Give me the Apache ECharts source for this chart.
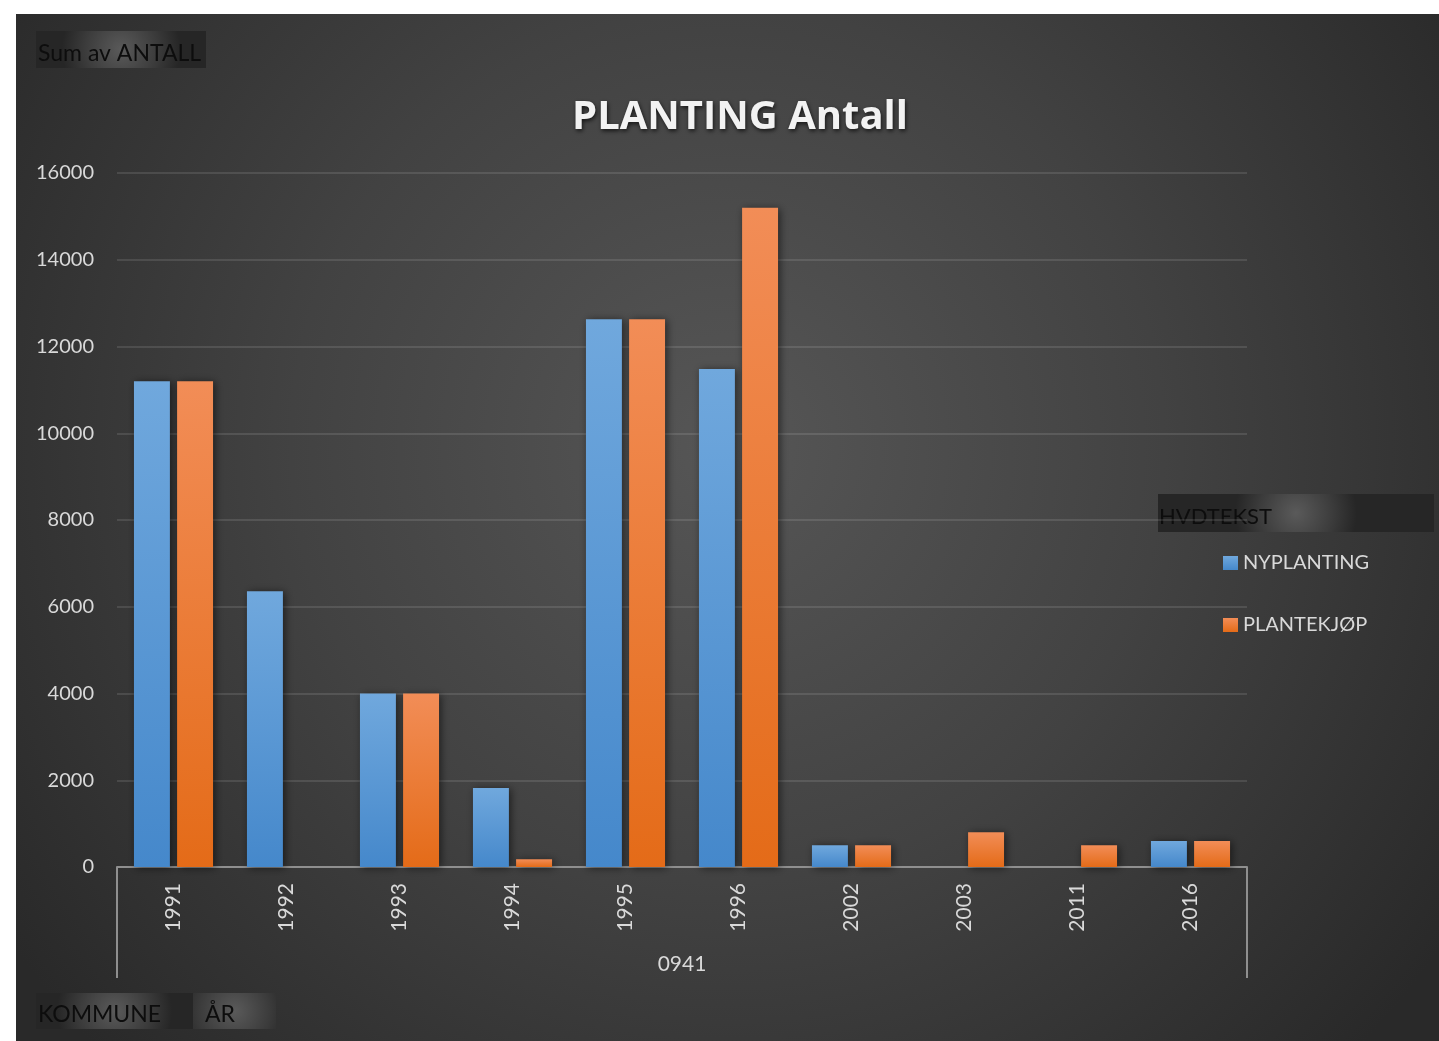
<!DOCTYPE html>
<html>
<head>
<meta charset="utf-8">
<title>PLANTING Antall</title>
<script src="https://cdn.jsdelivr.net/npm/echarts@6/dist/echarts.min.js"></script>
<style>
    html, body { margin: 0; padding: 0; background: #fff; }
    #chart { width: 1439px; height: 1041px; }
</style>
</head>
<body>
<!--图表-->
<div id="chart"></div>
<script>
    // 数据
    var years = ['1991', '1992', '1993', '1994', '1995', '1996', '2002', '2003', '2011', '2016'];
    var nyplanting = [11200, 6360, 4000, 1820, 12630, 11480, 500, null, null, 600];
    var plantekjop = [11200, null, 4000, 180, 12630, 15200, 500, 800, 500, 600];
    var kommune = ['0941'];
    var seriesNames = ['NYPLANTING', 'PLANTEKJØP'];

    var font = 'Lato, "Open Sans", sans-serif';
    var labelColor = '#d9d9d9';
    var axisColor = '#8f8f8f';

    // 字段按钮 (Excel pivot buttons)
    function fieldButton(x, y, w, h, text, textX, size) {
        return {
            type: 'group',
            left: x,
            top: y,
            z: -50,
            silent: true,
            children: [
                {
                    type: 'rect',
                    shape: {x: 0, y: 0, width: w, height: h},
                    style: {
                        fill: {
                            type: 'radial', x: 0.5, y: 0.5, r: 1.6,
                            colorStops: [
                                {offset: 0, color: '#5a5a5a'},
                                {offset: 0.6, color: '#3c3c3c'},
                                {offset: 1, color: '#262626'}
                            ]
                        }
                    }
                },
                {
                    type: 'text',
                    x: textX,
                    y: h / 2 + 4,
                    style: {
                        text: text,
                        fill: '#0d0d0d',
                        font: size + 'px ' + font,
                        verticalAlign: 'middle'
                    }
                }
            ]
        };
    }

    var myChart = echarts.init(document.getElementById('chart'));
    myChart.setOption({
        backgroundColor: '#ffffff',
        animation: false,
        graphic: [
            // 背景
            {
                type: 'rect',
                left: 16,
                top: 14,
                z: -100,
                silent: true,
                shape: {x: 0, y: 0, width: 1423, height: 1027},
                style: {
                    fill: {
                        type: 'radial', x: 0.5, y: 0.42, r: 0.85,
                        colorStops: [
                            {offset: 0, color: '#565656'},
                            {offset: 0.5, color: '#424242'},
                            {offset: 1, color: '#292929'}
                        ]
                    }
                }
            },
            fieldButton(36, 31, 170, 37, 'Sum av ANTALL', 2, 23),
            fieldButton(36, 993, 157, 36, 'KOMMUNE', 2, 23),
            fieldButton(193, 993, 83, 36, 'ÅR', 12, 23),
            fieldButton(1158, 494, 276, 38, 'HVDTEKST', 1, 22)
        ],
        title: {
            text: 'PLANTING Antall',
            left: 735,
            textAlign: 'center',
            top: 93,
            textStyle: {
                fontFamily: '"Open Sans", Lato, sans-serif',
                fontSize: 40,
                fontWeight: 'bold',
                color: '#f2f2f2',
                textShadowColor: 'rgba(0,0,0,0.7)',
                textShadowBlur: 4,
                textShadowOffsetX: 1,
                textShadowOffsetY: 2
            }
        },
        legend: {
            orient: 'vertical',
            left: 1223,
            top: 553,
            padding: 0,
            itemWidth: 15,
            itemHeight: 14,
            itemGap: 42,
            icon: 'rect',
            data: seriesNames,
            textStyle: {
                fontFamily: font,
                fontSize: 20,
                color: labelColor
            }
        },
        grid: {
            left: 117,
            right: 192,
            top: 173,
            bottom: 174
        },
        xAxis: [
            {
                type: 'category',
                data: years,
                axisLine: {lineStyle: {color: axisColor, width: 2}},
                axisTick: {show: false},
                axisLabel: {
                    rotate: 90,
                    margin: 16,
                    fontFamily: font,
                    fontSize: 21,
                    color: labelColor
                }
            },
            {
                // 第二层分类 (KOMMUNE)
                type: 'category',
                data: kommune,
                position: 'bottom',
                axisLine: {show: false},
                axisTick: {
                    show: true,
                    length: 111,
                    lineStyle: {color: axisColor, width: 2}
                },
                axisLabel: {
                    margin: 87,
                    fontFamily: font,
                    fontSize: 21,
                    color: labelColor
                }
            }
        ],
        yAxis: {
            type: 'value',
            min: 0,
            max: 16000,
            interval: 2000,
            axisLine: {show: false},
            axisTick: {show: false},
            axisLabel: {
                margin: 23,
                fontFamily: font,
                fontSize: 20,
                color: labelColor,
                formatter: function (v) {
                    return String(v);
                }
            },
            splitLine: {
                lineStyle: {color: 'rgba(255,255,255,0.11)', width: 2}
            }
        },
        series: [
            {
                name: seriesNames[0],
                type: 'bar',
                data: nyplanting,
                barGap: '20%',
                barCategoryGap: '30%',
                itemStyle: {
                    color: new echarts.graphic.LinearGradient(0, 0, 0, 1, [
                        {offset: 0, color: '#70a8dd'},
                        {offset: 1, color: '#4588cb'}
                    ]),
                    shadowColor: 'rgba(0,0,0,0.55)',
                    shadowBlur: 8,
                    shadowOffsetX: 2,
                    shadowOffsetY: 1
                }
            },
            {
                name: seriesNames[1],
                type: 'bar',
                data: plantekjop,
                barGap: '20%',
                barCategoryGap: '30%',
                itemStyle: {
                    color: new echarts.graphic.LinearGradient(0, 0, 0, 1, [
                        {offset: 0, color: '#f28d57'},
                        {offset: 1, color: '#e46b18'}
                    ]),
                    shadowColor: 'rgba(0,0,0,0.55)',
                    shadowBlur: 8,
                    shadowOffsetX: 2,
                    shadowOffsetY: 1
                }
            }
        ]
    });
</script>
</body>
</html>
